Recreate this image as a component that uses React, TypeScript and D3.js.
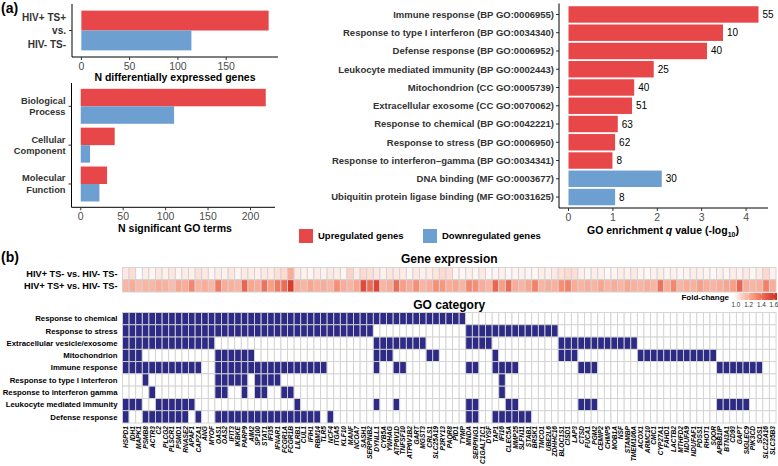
import React from "react";
import * as d3 from "d3";

const RED = "#e8474a";
const BLUE = "#6d9fd1";
const NAVY = "#2d2b86";
const GRID = "#d2d2d2";
const FONT = "'Liberation Sans', Arial, Helvetica, sans-serif";

// (a) top left: number of DE genes
const degCategory = ["HIV+ TS+ vs. HIV- TS-"];
const degCategoryLines = [["HIV+ TS+", "vs.", "HIV- TS-"]];
const degUp = [194];
const degDown = [114];
const degTicks = [0, 50, 100, 150];

// (a) bottom left: number of significant GO terms
const goTypes = ["Biological Process", "Cellular Component", "Molecular Function"];
const goTypeLines = [["Biological", "Process"], ["Cellular", "Component"], ["Molecular", "Function"]];
const goUp = [218, 40, 31];
const goDown = [110, 11, 22];
const goTicks = [0, 50, 100, 150, 200];

// (a) right: enriched terms
const terms = [
  "Immune response (BP GO:0006955)",
  "Response to type I interferon (BP GO:0034340)",
  "Defense response (BP GO:0006952)",
  "Leukocyte mediated immunity (BP GO:0002443)",
  "Mitochondrion (CC GO:0005739)",
  "Extracellular exosome (CC GO:0070062)",
  "Response to chemical (BP GO:0042221)",
  "Response to stress (BP GO:0006950)",
  "Response to interferon\u2013gamma (BP GO:0034341)",
  "DNA binding (MF GO:0003677)",
  "Ubiquitin protein ligase binding (MF GO:0031625)",
];
const termQ = [4.28, 3.48, 3.12, 1.92, 1.48, 1.43, 1.11, 1.05, 0.99, 2.1, 1.05];
const termN = [55, 10, 40, 25, 40, 51, 63, 62, 8, 30, 8];
const termDir = ["up", "up", "up", "up", "up", "up", "up", "up", "up", "down", "down"];
const qTicks = [0, 1, 2, 3, 4];

// (b) genes, fold changes and GO membership
const genes = "HSPD1 IDH1 MAPK1 PSMB8 ACTR3 C2 PLCG2 PLSCR1 PSMD1 RNASE2 APAF1 CAPZA1 ANG MYOF OAS1 OAS2 IFIT3 IKBKE PARP9 AIM2 SP100 STAT1 IFI35 IFNAR1 FCGR1A FCGR1B LILRB1 CUL1 IFIH1 RBM14 TLR5 NCF4 ITGA5 KLF10 MANF NCOA7 SASH1 SERPINB2 DYNLL1 CYB5A YWHAG ATP6V1D TNFSF10 ATP6V1B2 GART MGST3 CRLS1 SLC25A19 P2RY13 PAQR8 PID1 TYMP MNDA SERPING1 C1GALT1C1 DYSF TAP1 IFI16 CLEC5A MMP25 SLFN11 STAB1 BRSK1 TMCO1 UBE2L6 ZDHHC16 BLOC1S1 CISD1 LAP3 CTSD FUCA1 PGM2 CEMIP2 CHMP5 MOB1A NSF STAMBP TMEM106A ACOX1 ARMC10 CMC1 CYP27A1 FAHD1 LACTB2 MTHFD2 NDUFA9 NDUFAF1 PDSS1 RHOT1 SQOR APBB1IP BTN3A1 CD93 GAPT SIGLEC9 PIK3CD SOS1 SLC22A16 SLC35B3".split(" ");

const comparisons = ["HIV+ TS- vs. HIV- TS-", "HIV+ TS+ vs. HIV- TS-"];
const fcTsNeg = [
  1.06, 1.09, 1.0, 1.05, 1.03, 1.06, 1.04, 1.07, 1.03, 1.05,
  1.04, 1.08, 1.06, 1.03, 1.05, 1.04, 1.07, 1.03, 1.06, 1.05,
  1.04, 1.06, 1.05, 1.08, 1.1, 1.22, 1.06, 1.04, 1.03, 1.05,
  1.04, 1.06, 1.05, 1.03, 1.12, 1.05, 1.1, 1.08, 1.06, 1.04,
  1.07, 1.06, 1.05, 1.03, 1.06, 1.04, 1.05, 1.07, 1.1, 1.09,
  1.03, 1.02, 1.04, 1.03, 1.06, 1.02, 1.03, 1.04, 1.02, 1.03,
  1.04, 1.03, 1.02, 1.05, 1.04, 1.06, 1.08, 1.1, 1.09, 1.04,
  1.03, 1.05, 1.04, 1.02, 1.03, 1.05, 1.04, 1.06, 1.03, 1.02,
  1.04, 1.05, 1.03, 1.04, 1.02, 1.03, 1.05, 1.04, 1.03, 1.02,
  1.04, 1.03, 1.05, 1.04, 1.06, 1.03, 1.05, 1.1, 1.04,
];
const fcTsPos = [
  1.2, 1.22, 1.18, 1.2, 1.19, 1.22, 1.21, 1.18, 1.24, 1.22,
  1.32, 1.2, 1.22, 1.19, 1.36, 1.22, 1.21, 1.2, 1.42, 1.24,
  1.22, 1.38, 1.26, 1.36, 1.4, 1.55, 1.22, 1.2, 1.24, 1.21,
  1.22, 1.2, 1.3, 1.22, 1.2, 1.24, 1.5, 1.4, 1.52, 1.2,
  1.22, 1.4, 1.26, 1.22, 1.3, 1.2, 1.22, 1.3, 1.28, 1.22,
  1.24, 1.2, 1.32, 1.3, 1.22, 1.2, 1.42, 1.26, 1.4, 1.22,
  1.2, 1.24, 1.34, 1.2, 1.22, 1.21, 1.3, 1.34, 1.22, 1.2,
  1.22, 1.2, 1.24, 1.2, 1.22, 1.2, 1.24, 1.21, 1.2, 1.22,
  1.2, 1.38, 1.22, 1.32, 1.2, 1.22, 1.21, 1.26, 1.22, 1.2,
  1.22, 1.24, 1.26, 1.42, 1.22, 1.2, 1.21, 1.34, 1.22,
];
const fcTicks = [1.0, 1.2, 1.4, 1.6];

const goCategories = [
  "Response to chemical",
  "Response to stress",
  "Extracellular vesicle/exosome",
  "Mitochondrion",
  "Immune response",
  "Response to type I interferon",
  "Response to interferon gamma",
  "Leukocyte mediated immunity",
  "Defense response",
];
const goMembers = [
  "HSPD1 IDH1 MAPK1 PSMB8 ACTR3 C2 PLCG2 PLSCR1 PSMD1 RNASE2 APAF1 CAPZA1 ANG MYOF OAS1 OAS2 IFIT3 IKBKE PARP9 AIM2 SP100 STAT1 IFI35 IFNAR1 FCGR1A FCGR1B LILRB1 CUL1 IFIH1 RBM14 TLR5 NCF4 ITGA5 KLF10 MANF NCOA7 SASH1 SERPINB2 DYNLL1 CYB5A YWHAG ATP6V1D TNFSF10 ATP6V1B2 GART MGST3 CRLS1 SLC25A19 P2RY13 PAQR8 PID1 TYMP",
  "HSPD1 IDH1 MAPK1 PSMB8 ACTR3 C2 PLCG2 PLSCR1 PSMD1 RNASE2 APAF1 CAPZA1 ANG MYOF OAS1 OAS2 IFIT3 IKBKE PARP9 AIM2 SP100 STAT1 IFI35 IFNAR1 FCGR1A FCGR1B LILRB1 CUL1 IFIH1 RBM14 TLR5 NCF4 ITGA5 KLF10 MANF NCOA7 SASH1 SERPINB2 MNDA SERPING1 C1GALT1C1 DYSF TAP1 IFI16 CLEC5A MMP25 SLFN11 STAB1 BRSK1 TMCO1 UBE2L6 ZDHHC16",
  "HSPD1 IDH1 MAPK1 PSMB8 ACTR3 C2 PLCG2 PLSCR1 PSMD1 RNASE2 APAF1 CAPZA1 ANG MYOF DYNLL1 CYB5A YWHAG ATP6V1D TNFSF10 ATP6V1B2 GART MGST3 MNDA SERPING1 C1GALT1C1 DYSF BLOC1S1 CISD1 LAP3 CTSD FUCA1 PGM2 CEMIP2 CHMP5 MOB1A NSF STAMBP TMEM106A",
  "HSPD1 IDH1 MAPK1 OAS1 OAS2 IFIT3 IKBKE PARP9 AIM2 DYNLL1 CYB5A YWHAG CRLS1 SLC25A19 TAP1 BLOC1S1 CISD1 LAP3 ACOX1 ARMC10 CMC1 CYP27A1 FAHD1 LACTB2 MTHFD2 NDUFA9 NDUFAF1 PDSS1 RHOT1 SQOR",
  "HSPD1 IDH1 MAPK1 PSMB8 ACTR3 C2 PLCG2 PLSCR1 PSMD1 RNASE2 APAF1 CAPZA1 OAS1 OAS2 IFIT3 IKBKE PARP9 AIM2 SP100 STAT1 IFI35 IFNAR1 FCGR1A FCGR1B LILRB1 CUL1 IFIH1 RBM14 TLR5 DYNLL1 ATP6V1D TNFSF10 MNDA SERPING1 TAP1 IFI16 CLEC5A MMP25 CTSD FUCA1 PGM2 APBB1IP BTN3A1 CD93 GAPT SIGLEC9 PIK3CD SOS1",
  "PSMB8 OAS1 OAS2 IFIT3 IKBKE PARP9 SP100 STAT1 IFI35 IFNAR1 IFI16",
  "ACTR3 OAS1 OAS2 PARP9 SP100 STAT1 FCGR1A FCGR1B IFI16",
  "HSPD1 IDH1 MAPK1 C2 PLCG2 PLSCR1 PSMD1 RNASE2 APAF1 LILRB1 DYNLL1 ATP6V1D MNDA SERPING1 CLEC5A MMP25 CTSD FUCA1 PGM2 APBB1IP BTN3A1 CD93 GAPT SIGLEC9",
  "HSPD1 PSMB8 ACTR3 C2 PLCG2 PLSCR1 PSMD1 RNASE2 CAPZA1 OAS1 OAS2 IFIT3 IKBKE PARP9 AIM2 SP100 STAT1 IFI35 IFNAR1 FCGR1A FCGR1B LILRB1 CUL1 IFIH1 RBM14 NCF4 MNDA SERPING1 TAP1 IFI16 CLEC5A MMP25 SLFN11 STAB1",
];

// ggplot-like discrete axis: categories at 1..n, expanded by 0.6
const discrete = (n: number, top: number, bottom: number) =>
  d3.scaleLinear().domain([0.4, n + 0.6]).range([top, bottom]);

const expanded = (max: number, r0: number, r1: number) =>
  d3.scaleLinear().domain([-0.05 * max, 1.05 * max]).range([r0, r1]);

function BottomAxis({ scale, ticks, y }: any) {
  const [r0, r1] = scale.range();
  return (
    <g>
      <line x1={r0} x2={r1} y1={y} y2={y} stroke="#000" strokeWidth={1} />
      {ticks.map((t: number) => (
        <g key={t}>
          <line x1={scale(t)} x2={scale(t)} y1={y} y2={y + 3} stroke="#333" />
          <text x={scale(t)} y={y + 12.5} textAnchor="middle" fontSize={10.5} fill="#4d4d4d">
            {t}
          </text>
        </g>
      ))}
    </g>
  );
}

function LeftAxisLine({ x, scale }: any) {
  const [r0, r1] = scale.range();
  return <line x1={x} x2={x} y1={r0} y2={r1} stroke="#000" strokeWidth={1} />;
}

function DodgedBars({ ys, x, up, down }: any) {
  const unit = ys(1) - ys(0);
  const h = 0.9 * unit;
  return (
    <g>
      {up.map((v: number, i: number) => {
        const c = ys(i + 1);
        return (
          <g key={i}>
            <rect x={x(0)} y={c - h / 2} width={x(v) - x(0)} height={h / 2} fill={RED} />
            <rect x={x(0)} y={c} width={x(down[i]) - x(0)} height={h / 2} fill={BLUE} />
          </g>
        );
      })}
    </g>
  );
}

export default function App() {
  // (a) scales
  const xDeg = expanded(d3.max([...degUp, ...degDown]) as number, 72, 278);
  const yDeg = discrete(degCategory.length, 4, 57);
  const xGo = expanded(d3.max([...goUp, ...goDown]) as number, 71.5, 275);
  const yGo = discrete(goTypes.length, 83, 207.3);
  const xQ = expanded(d3.max(termQ) as number, 559, 768);
  const yQ = discrete(terms.length, 3.5, 208);

  // (b) scales
  const xGene = d3.scaleBand<string>().domain(genes).range([122.5, 776]);
  const yCmp = d3.scaleBand<string>().domain(comparisons).range([267.5, 292]);
  const yCat = d3.scaleBand<string>().domain(goCategories).range([312.5, 423]);
  const fcColor = d3
    .scaleLinear<string>()
    .domain([1.0, 1.3, 1.6])
    .range(["#ffffff", "#f98e72", "#d32a1f"])
    .clamp(true);
  const xLegend = d3.scaleLinear().domain([1.0, 1.6]).range([736, 774]);
  const fcRows = [fcTsNeg, fcTsPos];
  const memberSets = goMembers.map((s) => new Set(s.split(" ")));
  const gridMid = (xGene.range()[0] + xGene.range()[1]) / 2;

  return (
    <svg
      width={778}
      height={466}
      style={{ position: "absolute", left: 0, top: 0, background: "#fff" }}
      fontFamily={FONT}
    >
      <defs>
        <linearGradient id="fcgrad" x1="0" x2="1" y1="0" y2="0">
          {d3.range(0, 1.01, 0.1).map((t) => (
            <stop key={t} offset={t} stopColor={fcColor(1.0 + 0.6 * t)} />
          ))}
        </linearGradient>
      </defs>

      {/* panel labels */}
      <text x={1} y={13} fontSize={14} fontWeight="bold">(a)</text>
      <text x={1} y={262} fontSize={14} fontWeight="bold">(b)</text>

      {/* DE genes */}
      <DodgedBars ys={yDeg} x={xDeg} up={degUp} down={degDown} />
      <LeftAxisLine x={72} scale={yDeg} />
      {degCategoryLines.map((lines, i) => (
        <g key={i}>
          <line x1={69} x2={72} y1={yDeg(i + 1)} y2={yDeg(i + 1)} stroke="#333" />
          {lines.map((l, j) => (
            <text key={j} x={66} y={yDeg(i + 1) + (j - 1) * 13.5} dy="0.35em" textAnchor="end"
              fontSize={10} fontWeight="bold" fill="#333">{l}</text>
          ))}
        </g>
      ))}
      <BottomAxis scale={xDeg} ticks={degTicks} y={57} />
      <text x={175} y={81} textAnchor="middle" fontSize={10.5} fontWeight="bold">
        N differentially expressed genes
      </text>

      {/* GO term counts */}
      <DodgedBars ys={yGo} x={xGo} up={goUp} down={goDown} />
      <LeftAxisLine x={71.5} scale={yGo} />
      {goTypeLines.map((lines, i) => (
        <g key={i}>
          <line x1={68.5} x2={71.5} y1={yGo(i + 1)} y2={yGo(i + 1)} stroke="#333" />
          {lines.map((l, j) => (
            <text key={j} x={65.5} y={yGo(i + 1) + (j - 0.5) * 11.5} dy="0.35em" textAnchor="end"
              fontSize={9.3} fontWeight="bold" fill="#333">{l}</text>
          ))}
        </g>
      ))}
      <BottomAxis scale={xGo} ticks={goTicks} y={207.3} />
      <text x={175} y={232} textAnchor="middle" fontSize={10.5} fontWeight="bold">
        N significant GO terms
      </text>

      {/* enrichment */}
      {terms.map((t, i) => {
        const c = yQ(i + 1);
        const h = 0.9 * (yQ(1) - yQ(0));
        return (
          <g key={t}>
            <rect x={xQ(0)} y={c - h / 2} width={xQ(termQ[i]) - xQ(0)} height={h}
              fill={termDir[i] === "up" ? RED : BLUE} />
            <text x={xQ(termQ[i]) + 4} y={c} dy="0.35em" fontSize={10}>{termN[i]}</text>
            <line x1={556} x2={559} y1={c} y2={c} stroke="#333" />
            <text x={554} y={c} dy="0.35em" textAnchor="end" fontSize={9.5} fontWeight="bold"
              fill="#333">{t}</text>
          </g>
        );
      })}
      <LeftAxisLine x={559} scale={yQ} />
      <BottomAxis scale={xQ} ticks={qTicks} y={208} />
      <text x={663} y={234} textAnchor="middle" fontSize={10.5} fontWeight="bold">
        GO enrichment <tspan fontStyle="italic">q</tspan> value (-log
        <tspan fontSize={7} dy={3}>10</tspan>
        <tspan dy={-3}>)</tspan>
      </text>

      {/* legend */}
      <rect x={299} y={229} width={14} height={14} fill={RED} />
      <text x={318} y={236} dy="0.35em" fontSize={9.5} fontWeight="bold">Upregulated genes</text>
      <rect x={423} y={229} width={14} height={14} fill={BLUE} />
      <text x={442} y={236} dy="0.35em" fontSize={9.5} fontWeight="bold">Downregulated genes</text>

      {/* (b) gene expression heatmap */}
      <text x={gridMid} y={263} textAnchor="middle" fontSize={12} fontWeight="bold">Gene expression</text>
      {comparisons.map((cmp, r) => (
        <g key={cmp}>
          <text x={117.5} y={(yCmp(cmp) as number) + yCmp.bandwidth() / 2} dy="0.35em" textAnchor="end"
            fontSize={9.2} fontWeight="bold">{cmp}</text>
          {genes.map((g, i) => (
            <rect key={g} x={xGene(g)} y={yCmp(cmp)} width={xGene.bandwidth()} height={yCmp.bandwidth()}
              fill={fcColor(fcRows[r][i])} stroke={GRID} strokeWidth={0.9} />
          ))}
        </g>
      ))}

      {/* fold-change legend */}
      <text x={729} y={299.5} textAnchor="end" fontSize={8} fontWeight="bold">Fold-change</text>
      <rect x={733} y={293} width={44} height={7} fill="url(#fcgrad)" />
      {fcTicks.map((t) => (
        <g key={t}>
          <line x1={xLegend(t)} x2={xLegend(t)} y1={293} y2={294.5} stroke="#fff" strokeWidth={0.6} />
          <line x1={xLegend(t)} x2={xLegend(t)} y1={298.5} y2={300} stroke="#fff" strokeWidth={0.6} />
          <text x={xLegend(t)} y={307} textAnchor="middle" fontSize={6.3} fill="#333">{t.toFixed(1)}</text>
        </g>
      ))}

      {/* (b) GO category grid */}
      <text x={gridMid} y={309} textAnchor="middle" fontSize={12} fontWeight="bold">GO category</text>
      {goCategories.map((cat, r) => (
        <g key={cat}>
          <text x={117.5} y={(yCat(cat) as number) + yCat.bandwidth() / 2} dy="0.35em" textAnchor="end"
            fontSize={7.8} fontWeight="bold">{cat}</text>
          {genes.map((g) => (
            <rect key={g} x={xGene(g)} y={yCat(cat)} width={xGene.bandwidth()} height={yCat.bandwidth()}
              fill={memberSets[r].has(g) ? NAVY : "#fff"} stroke={GRID} strokeWidth={0.9} />
          ))}
        </g>
      ))}
      {genes.map((g) => (
        <text key={g} transform={`translate(${(xGene(g) as number) + xGene.bandwidth() / 2},426) rotate(-90)`}
          dy="0.35em" textAnchor="end" fontSize={6.6} fontWeight="bold" fontStyle="italic">{g}</text>
      ))}
    </svg>
  );
}
